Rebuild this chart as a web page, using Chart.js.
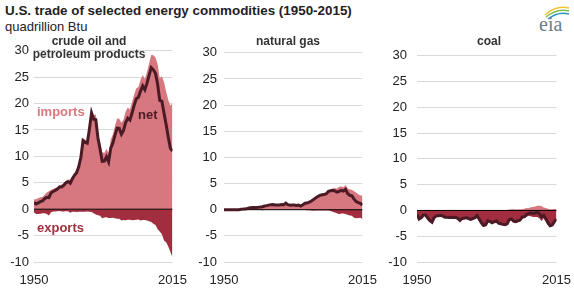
<!DOCTYPE html>
<html>
<head>
<meta charset="utf-8">
<script src="https://cdn.jsdelivr.net/npm/chart.js@4.4.1/dist/chart.umd.min.js"></script>
<style>
    body { margin: 0; background: #fff; font-family: "Liberation Sans", Arial, sans-serif; }
    #wrap { position: relative; width: 574px; height: 288px; overflow: hidden; }
    .txt { position: absolute; white-space: nowrap; }
    .ptitle { position: absolute; font-size: 12px; font-weight: bold; color: #333; text-align: center; line-height: 13px; z-index: 2; }
    .lbl { position: absolute; font-size: 13px; font-weight: bold; line-height: 14px; z-index: 2; }
    canvas { position: absolute; top: 38px; }
</style>
</head>
<body>
<div id="wrap">
    <div class="txt" style="left:5px;top:3px;font-size:13.4px;font-weight:bold;color:#222;">U.S. trade of selected energy commodities (1950-2015)</div>
    <div class="txt" style="left:5px;top:19px;font-size:13px;color:#222;">quadrillion Btu</div>
    <svg style="position:absolute;left:536px;top:2px;" width="36" height="32" viewBox="0 0 36 32">
        <path d="M9 13 Q20 3 33 6" stroke="#f2c230" stroke-width="1.6" fill="none"/>
        <path d="M10 15 Q21 6 33 9" stroke="#7cbf4a" stroke-width="1.6" fill="none"/>
        <path d="M12 17 Q22 9 33 12" stroke="#2f8fc6" stroke-width="1.6" fill="none"/>
        <text x="3" y="29" font-family="Liberation Serif, DejaVu Serif, serif" font-size="20" fill="#6d7d8b">eia</text>
    </svg>

    <div class="ptitle" style="left:29px;top:35px;width:120px;">crude oil and<br>petroleum products</div>
    <div class="ptitle" style="left:228px;top:35px;width:120px;">natural gas</div>
    <div class="ptitle" style="left:429px;top:35px;width:120px;">coal</div>

    <div class="lbl" style="left:37px;top:105px;color:#d9787f;">imports</div>
    <div class="lbl" style="left:138px;top:108px;color:#4a1c24;">net</div>
    <div class="lbl" style="left:37px;top:221px;color:#a3303f;">exports</div>

    <canvas id="oilChart" style="left:0px;" width="190" height="250"></canvas>
    <canvas id="gasChart" style="left:190px;" width="190" height="250"></canvas>
    <canvas id="coalChart" style="left:382px;" width="192" height="250"></canvas>
</div>

<script>
const years = [
    1950, 1951, 1952, 1953, 1954, 1955, 1956, 1957, 1958, 1959,
    1960, 1961, 1962, 1963, 1964, 1965, 1966, 1967, 1968, 1969,
    1970, 1971, 1972, 1973, 1974, 1975, 1976, 1977, 1978, 1979,
    1980, 1981, 1982, 1983, 1984, 1985, 1986, 1987, 1988, 1989,
    1990, 1991, 1992, 1993, 1994, 1995, 1996, 1997, 1998, 1999,
    2000, 2001, 2002, 2003, 2004, 2005, 2006, 2007, 2008, 2009,
    2010, 2011, 2012, 2013, 2014, 2015
];
const yearTicks = [1950, 2015];
const yTicks = [30, 25, 20, 15, 10, 5, 0, -5, -10];

// crude oil and petroleum products
const oilImports = [
    1.89, 1.87, 2.11, 2.28, 2.32, 2.75, 3.17, 3.38, 3.70, 3.81,
    4.00, 4.19, 4.56, 4.65, 4.96, 5.40, 5.63, 5.58, 6.24, 6.92,
    7.47, 8.54, 10.30, 13.47, 13.13, 12.95, 15.67, 18.76, 17.82, 17.93,
    14.66, 12.64, 10.78, 10.65, 11.43, 10.61, 13.20, 14.16, 15.75, 17.16,
    17.12, 16.35, 16.97, 18.51, 19.24, 18.88, 20.28, 21.74, 22.91, 23.13,
    24.53, 25.40, 24.67, 25.95, 27.61, 29.25, 29.16, 28.74, 27.43, 24.80,
    25.20, 24.10, 22.30, 20.70, 19.60, 20.10
];
const oilExports = [
    -0.64, -0.89, -0.91, -0.85, -0.75, -0.77, -0.91, -1.18, -0.59, -0.45,
    -0.43, -0.37, -0.35, -0.44, -0.43, -0.39, -0.41, -0.65, -0.49, -0.49,
    -0.55, -0.47, -0.47, -0.49, -0.47, -0.44, -0.47, -0.51, -0.77, -0.99,
    -1.16, -1.26, -1.73, -1.56, -1.53, -1.66, -1.67, -1.63, -1.71, -1.82,
    -1.82, -2.13, -2.04, -2.10, -1.99, -2.00, -2.07, -2.04, -1.98, -1.94,
    -2.15, -2.04, -2.04, -2.13, -2.28, -2.44, -2.76, -3.01, -3.78, -4.20,
    -4.75, -5.92, -6.28, -7.05, -8.09, -9.10
];
const oilNet = [
    1.25, 0.98, 1.20, 1.43, 1.57, 1.98, 2.26, 2.20, 3.11, 3.36,
    3.57, 3.82, 4.21, 4.21, 4.53, 5.01, 5.22, 4.93, 5.75, 6.43,
    6.92, 8.07, 9.83, 12.98, 12.66, 12.51, 15.20, 18.25, 17.05, 16.94,
    13.50, 11.38, 9.05, 9.09, 9.90, 8.95, 11.53, 12.53, 14.04, 15.34,
    15.30, 14.22, 14.93, 16.41, 17.25, 16.88, 18.21, 19.70, 20.93, 21.19,
    22.38, 23.36, 22.63, 23.82, 25.33, 26.81, 26.40, 25.73, 23.65, 20.60,
    20.45, 18.18, 16.02, 13.65, 11.51, 11.00
];

// natural gas
const gasImports = [
    0.00, 0.00, 0.01, 0.01, 0.01, 0.01, 0.01, 0.04, 0.14, 0.14,
    0.16, 0.23, 0.41, 0.42, 0.45, 0.47, 0.49, 0.58, 0.67, 0.75,
    0.85, 0.96, 1.05, 1.06, 0.98, 0.98, 0.99, 1.04, 0.99, 1.30,
    1.01, 0.92, 0.95, 0.94, 0.85, 0.95, 0.75, 1.00, 1.30, 1.39,
    1.55, 1.80, 2.16, 2.40, 2.68, 2.90, 3.00, 3.06, 3.22, 3.66,
    3.87, 4.07, 4.10, 4.04, 4.37, 4.45, 4.29, 4.72, 4.08, 3.84,
    3.81, 3.54, 3.22, 2.95, 2.73, 2.72
];
const gasExports = [
    -0.03, -0.03, -0.03, -0.03, -0.03, -0.03, -0.04, -0.04, -0.04, -0.02,
    -0.01, -0.01, -0.02, -0.02, -0.02, -0.03, -0.03, -0.08, -0.10, -0.05,
    -0.07, -0.08, -0.08, -0.08, -0.08, -0.07, -0.07, -0.06, -0.05, -0.06,
    -0.05, -0.06, -0.05, -0.06, -0.06, -0.06, -0.06, -0.06, -0.07, -0.11,
    -0.09, -0.13, -0.22, -0.14, -0.16, -0.16, -0.16, -0.16, -0.16, -0.16,
    -0.25, -0.38, -0.52, -0.69, -0.87, -0.74, -0.74, -0.84, -0.98, -1.09,
    -1.15, -1.52, -1.65, -1.59, -1.53, -1.81
];
const gasNet = [
    -0.03, -0.03, -0.02, -0.02, -0.02, -0.02, -0.03, 0.00, 0.10, 0.12,
    0.15, 0.22, 0.39, 0.40, 0.43, 0.44, 0.46, 0.50, 0.57, 0.70,
    0.78, 0.88, 0.97, 0.98, 0.90, 0.91, 0.92, 0.98, 0.94, 1.24,
    0.96, 0.86, 0.90, 0.88, 0.79, 0.89, 0.69, 0.94, 1.23, 1.28,
    1.46, 1.67, 1.94, 2.26, 2.52, 2.74, 2.84, 2.90, 3.06, 3.50,
    3.62, 3.69, 3.58, 3.35, 3.50, 3.71, 3.55, 3.88, 3.10, 2.75,
    2.66, 2.02, 1.57, 1.36, 1.20, 0.91
];

// coal
const coalImports = [
    0.01, 0.01, 0.01, 0.01, 0.01, 0.01, 0.01, 0.01, 0.01, 0.01,
    0.01, 0.01, 0.01, 0.01, 0.01, 0.00, 0.00, 0.00, 0.00, 0.00,
    0.00, 0.00, 0.00, 0.03, 0.05, 0.02, 0.03, 0.04, 0.07, 0.05,
    0.03, 0.03, 0.02, 0.03, 0.03, 0.05, 0.06, 0.04, 0.05, 0.07,
    0.07, 0.08, 0.10, 0.20, 0.22, 0.24, 0.20, 0.19, 0.22, 0.23,
    0.31, 0.49, 0.42, 0.63, 0.68, 0.76, 0.91, 0.91, 0.86, 0.56,
    0.48, 0.33, 0.23, 0.21, 0.30, 0.29
];
const coalExports = [
    -0.79, -1.68, -1.40, -0.91, -0.90, -1.47, -1.98, -2.29, -1.42, -1.06,
    -1.02, -0.97, -1.08, -1.35, -1.34, -1.38, -1.35, -1.33, -1.35, -1.53,
    -1.94, -1.55, -1.53, -1.43, -1.62, -1.76, -1.60, -1.44, -1.08, -1.75,
    -2.42, -2.94, -2.79, -2.04, -2.15, -2.44, -2.25, -2.09, -2.50, -2.64,
    -2.77, -2.85, -2.68, -1.96, -1.88, -2.32, -2.37, -2.19, -2.09, -1.53,
    -1.53, -1.27, -1.03, -1.12, -1.25, -1.27, -1.26, -1.51, -2.07, -1.52,
    -2.10, -2.75, -3.19, -3.04, -2.47, -1.95
];
const coalNet = [
    -0.78, -1.67, -1.39, -0.90, -0.89, -1.46, -1.97, -2.28, -1.41, -1.05,
    -1.01, -0.96, -1.07, -1.34, -1.33, -1.38, -1.35, -1.33, -1.35, -1.53,
    -1.94, -1.55, -1.53, -1.40, -1.57, -1.74, -1.57, -1.40, -1.01, -1.70,
    -2.39, -2.91, -2.77, -2.01, -2.12, -2.39, -2.19, -2.05, -2.45, -2.57,
    -2.70, -2.77, -2.58, -1.76, -1.66, -2.08, -2.17, -2.00, -1.87, -1.30,
    -1.22, -0.78, -0.61, -0.49, -0.57, -0.51, -0.35, -0.60, -1.21, -0.96,
    -1.62, -2.42, -2.96, -2.83, -2.17, -1.66
];

const FONT = "'Liberation Sans', Arial, sans-serif";
const IMPORT_COLOR = '#d7777f';
const EXPORT_COLOR = '#a12d3e';
const NET_COLOR = '#4b1b25';

const toPoints = values => values.map((v, i) => ({ x: years[i], y: v }));

function makePanel(canvasId, imports, exports, net, axisWidth, labelGap, padRight) {
    new Chart(document.getElementById(canvasId), {
        type: 'line',
        data: {
            datasets: [
                {
                    label: 'net',
                    data: toPoints(net),
                    borderColor: NET_COLOR,
                    borderWidth: 3,
                    pointRadius: 0,
                    fill: false,
                    order: 0
                },
                {
                    label: 'zero',
                    data: [{ x: yearTicks[0], y: 0 }, { x: yearTicks[1], y: 0 }],
                    borderColor: '#000',
                    borderWidth: 1,
                    pointRadius: 0,
                    fill: false,
                    order: 1
                },
                {
                    label: 'imports',
                    data: toPoints(imports),
                    borderWidth: 0,
                    borderColor: 'rgba(0,0,0,0)',
                    backgroundColor: IMPORT_COLOR,
                    pointRadius: 0,
                    fill: 'origin',
                    order: 2
                },
                {
                    label: 'exports',
                    data: toPoints(exports),
                    borderWidth: 0,
                    borderColor: 'rgba(0,0,0,0)',
                    backgroundColor: EXPORT_COLOR,
                    pointRadius: 0,
                    fill: 'origin',
                    order: 3
                }
            ]
        },
        options: {
            responsive: false,
            animation: false,
            events: [],
            layout: { padding: { top: 3, right: padRight, bottom: 0, left: 0 } },
            plugins: {
                legend: { display: false },
                tooltip: { enabled: false }
            },
            scales: {
                x: {
                    type: 'linear',
                    min: yearTicks[0],
                    max: yearTicks[1],
                    grid: { display: false },
                    border: { display: false },
                    afterBuildTicks: axis => { axis.ticks = yearTicks.map(v => ({ value: v })); },
                    afterFit: axis => { axis.height = 26; },
                    ticks: {
                        padding: 3,
                        maxRotation: 0,
                        color: '#222',
                        font: { family: FONT, size: 13 },
                        callback: v => String(v)
                    }
                },
                y: {
                    min: yTicks[yTicks.length - 1],
                    max: yTicks[0],
                    afterBuildTicks: axis => { axis.ticks = yTicks.map(v => ({ value: v })); },
                    afterFit: axis => { axis.width = axisWidth; },
                    grid: { color: '#d9d9d9', drawTicks: false },
                    border: { display: false },
                    ticks: {
                        padding: labelGap,
                        color: '#222',
                        font: { family: FONT, size: 13 }
                    }
                }
            }
        }
    });
}

makePanel('oilChart', oilImports, oilExports, oilNet, 34, 5, 11);
makePanel('gasChart', gasImports, gasExports, gasNet, 34, 7, 10);
makePanel('coalChart', coalImports, coalExports, coalNet, 35, 10, 14);
</script>
</body>
</html>
